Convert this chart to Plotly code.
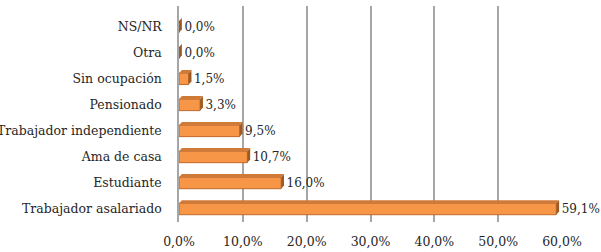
import plotly.graph_objects as go

categories = ["Trabajador asalariado", "Estudiante", "Ama de casa",
              "Trabajador independiente", "Pensionado", "Sin ocupación",
              "Otra", "NS/NR"]
values = [59.1, 16.0, 10.7, 9.5, 3.3, 1.5, 0.0, 0.0]
tick_vals = [0, 10, 20, 30, 40, 50, 60]
tick_text = ["0,0%", "10,0%", "20,0%", "30,0%", "40,0%", "50,0%", "60,0%"]

FONT = "DejaVu Serif"
bar_w = 0.44

fig = go.Figure()
fig.add_trace(go.Bar(
    y=categories, x=values, orientation="h",
    width=bar_w,
    marker=dict(color="#F79646", line=dict(color="#C0692C", width=1)),
    text=values, texttemplate="\u2009%{x:.1f}%", textposition="outside",
    constraintext="none",
    textfont=dict(family=FONT, size=12, color="#262626"),
    cliponaxis=False,
))

# 3D-like end caps derived from the data
shapes = []
for i, v in enumerate(values):
    shapes.append(dict(type="path", xref="x", yref="y",
                       path=f"M {v},{i - bar_w/2} L {v + 0.45},{i - bar_w/2 + 0.12} "
                            f"L {v + 0.45},{i + bar_w/2 + 0.12} L {v},{i + bar_w/2} Z",
                       fillcolor="#9E5A22", line=dict(width=0), layer="above"))
    shapes.append(dict(type="path", xref="x", yref="y",
                       path=f"M {v},{i + bar_w/2} L {v + 0.45},{i + bar_w/2 + 0.12} "
                            f"L 0.45,{i + bar_w/2 + 0.12} L 0,{i + bar_w/2} Z",
                       fillcolor="#D07A38", line=dict(width=0), layer="above"))

fig.update_layout(
    width=601, height=252,
    margin=dict(l=179, r=39, t=6, b=30),
    plot_bgcolor="white", paper_bgcolor="white",
    separators=",.",
    showlegend=False,
    shapes=shapes,
    bargap=0.5,
    xaxis=dict(range=[0, 60], tickvals=tick_vals, ticktext=tick_text,
               showgrid=True, gridcolor="#A6A6A6", gridwidth=1.5,
               zeroline=False, showline=False, automargin=False,
               ticklabelstandoff=10,
               tickfont=dict(family=FONT, size=12.5, color="#262626")),
    yaxis=dict(range=[-0.5, 7.8], showgrid=False, zeroline=False,
               showline=True, linecolor="#A6A6A6", linewidth=1.5,
               ticks="", ticklabelstandoff=13, automargin=False,
               tickfont=dict(family=FONT, size=12.5, color="#262626")),
)

fig.write_html("out.html")
